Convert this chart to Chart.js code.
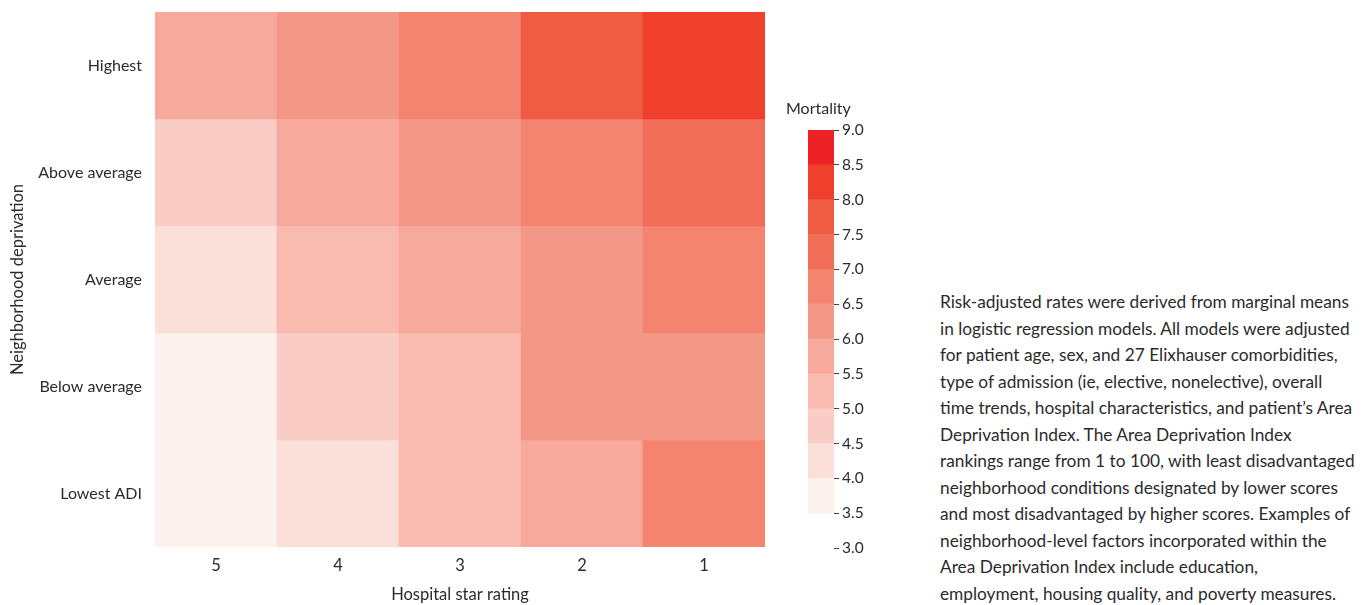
<!DOCTYPE html>
<html>
<head>
<meta charset="utf-8">
<script src="https://cdn.jsdelivr.net/npm/chart.js@4/dist/chart.umd.min.js"></script>
<style>
  html, body { margin: 0; padding: 0; background: #fff; }
  body { width: 1372px; height: 605px; position: relative; overflow: hidden; font-family: Lato, sans-serif; color: #2b2b2b; }
  #heat { position: absolute; left: 0; top: 0; }
  #bar { position: absolute; left: 790px; top: 90px; }
  #cbtitle { position: absolute; left: 786px; top: 98px; font-size: 16px; line-height: 20px; }
  #note { position: absolute; left: 940px; top: 289px; font-size: 17.3px; line-height: 26.55px; white-space: nowrap; }
</style>
</head>
<body>
<canvas id="heat" width="780" height="605"></canvas>
<canvas id="bar" width="90" height="480"></canvas>
<div id="cbtitle">Mortality</div>
<div id="note">Risk-adjusted rates were derived from marginal means<br>in logistic regression models. All models were adjusted<br>for patient age, sex, and 27 Elixhauser comorbidities,<br>type of admission (ie, elective, nonelective), overall<br>time trends, hospital characteristics, and patient’s Area<br>Deprivation Index. The Area Deprivation Index<br>rankings range from 1 to 100, with least disadvantaged<br>neighborhood conditions designated by lower scores<br>and most disadvantaged by higher scores. Examples of<br>neighborhood-level factors incorporated within the<br>Area Deprivation Index include education,<br>employment, housing quality, and poverty measures.</div>
<script>
// ---- data ----
const starRatings = ['5', '4', '3', '2', '1'];
const deprivationRows = ['Highest', 'Above average', 'Average', 'Below average', 'Lowest ADI'];
// mortality (%) by row, columns follow starRatings
const highest      = [5.8, 6.3, 6.8, 7.8, 8.3];
const aboveAverage = [4.8, 5.8, 6.3, 6.8, 7.3];
const average      = [4.3, 5.3, 5.8, 6.3, 6.8];
const belowAverage = [3.8, 4.8, 5.3, 6.2, 6.3];
const lowestADI    = [3.7, 4.2, 5.2, 5.7, 6.7];
const mortalityRows = [highest, aboveAverage, average, belowAverage, lowestADI];
// colour scale bins
const binEdges = [3.5, 4.0, 4.5, 5.0, 5.5, 6.0, 6.5, 7.0, 7.5, 8.0, 8.5, 9.0];
const binColors = ['#FCF1EC', '#FBDFD9', '#F9CDC5', '#F9BBB0', '#F7AA9B', '#F39886',
                   '#F4836F', '#F06E58', '#EF5B43', '#EE402D', '#EC2227'];
const colorbarTicks = { min: 3.0, max: 9.0, step: 0.5 };

function colorFor(v) {
  for (let i = 0; i < binColors.length; i++) {
    if (v >= binEdges[i] && v < binEdges[i + 1]) return binColors[i];
  }
  return v < binEdges[0] ? binColors[0] : binColors[binColors.length - 1];
}

const TXT = '#2b2b2b';
const FONT = 'Lato';

// ---- heatmap ----
new Chart(document.getElementById('heat'), {
  type: 'bar',
  data: {
    labels: starRatings,
    datasets: mortalityRows.map((vals, i) => ({
      label: deprivationRows[i],
      data: vals.map(() => 1),
      mortality: vals,
      backgroundColor: vals.map(colorFor),
      borderWidth: 0,
      barPercentage: 1,
      categoryPercentage: 1
    }))
  },
  options: {
    responsive: false,
    animation: false,
    devicePixelRatio: 1,
    layout: { padding: { top: 12, right: 15, left: 0, bottom: 0 } },
    plugins: {
      legend: { display: false },
      tooltip: {
        callbacks: {
          label: (c) => c.dataset.label + ': ' + c.dataset.mortality[c.dataIndex]
        }
      }
    },
    scales: {
      x: {
        stacked: true,
        grid: { display: false, drawTicks: false },
        border: { display: false },
        ticks: { padding: 9, color: TXT, font: { family: FONT, size: 16.5 } },
        title: { display: true, text: 'Hospital star rating', color: TXT,
                 font: { family: FONT, size: 16.5 }, padding: { top: 0, bottom: 0 } },
        afterFit: (s) => { s.height = 58; s.paddingLeft = 0; s.paddingRight = 0; }
      },
      y: {
        stacked: true,
        reverse: true,
        min: 0,
        max: deprivationRows.length,
        grid: { display: false, drawTicks: false },
        border: { display: false },
        afterBuildTicks: (axis) => { axis.ticks = deprivationRows.map((_, i) => ({ value: i + 0.5 })); },
        ticks: {
          autoSkip: false,
          padding: 13,
          color: TXT,
          font: { family: FONT, size: 16 },
          callback: (v) => deprivationRows[Math.floor(v)]
        },
        title: { display: true, text: 'Neighborhood deprivation', color: TXT,
                 font: { family: FONT, size: 16.5 }, padding: { top: 8, bottom: 0 } },
        afterFit: (s) => { s.width = 155; s.paddingTop = 0; s.paddingBottom = 0; }
      }
    }
  }
});

// ---- colour bar ----
new Chart(document.getElementById('bar'), {
  type: 'bar',
  data: {
    labels: [''],
    datasets: binColors.map((c, i) => ({
      label: binEdges[i] + '–' + binEdges[i + 1],
      data: [[binEdges[i], binEdges[i + 1]]],
      backgroundColor: c,
      borderWidth: 0,
      grouped: false,
      barPercentage: 1,
      categoryPercentage: 1
    }))
  },
  options: {
    responsive: false,
    animation: false,
    devicePixelRatio: 1,
    layout: { padding: { top: 40, right: 0, left: 18, bottom: 22 } },
    plugins: { legend: { display: false }, tooltip: { enabled: false } },
    scales: {
      x: { display: false },
      y: {
        position: 'right',
        min: colorbarTicks.min,
        max: colorbarTicks.max,
        grid: { drawOnChartArea: false, drawTicks: true, tickLength: 5, color: '#444', lineWidth: 1 },
        border: { display: false },
        ticks: {
          stepSize: colorbarTicks.step,
          padding: 3,
          color: TXT,
          font: { family: FONT, size: 15.5 },
          callback: (v) => Number(v).toFixed(1)
        },
        afterFit: (s) => { s.width = 46; s.paddingTop = 0; s.paddingBottom = 0; }
      }
    }
  }
});
</script>
</body>
</html>
